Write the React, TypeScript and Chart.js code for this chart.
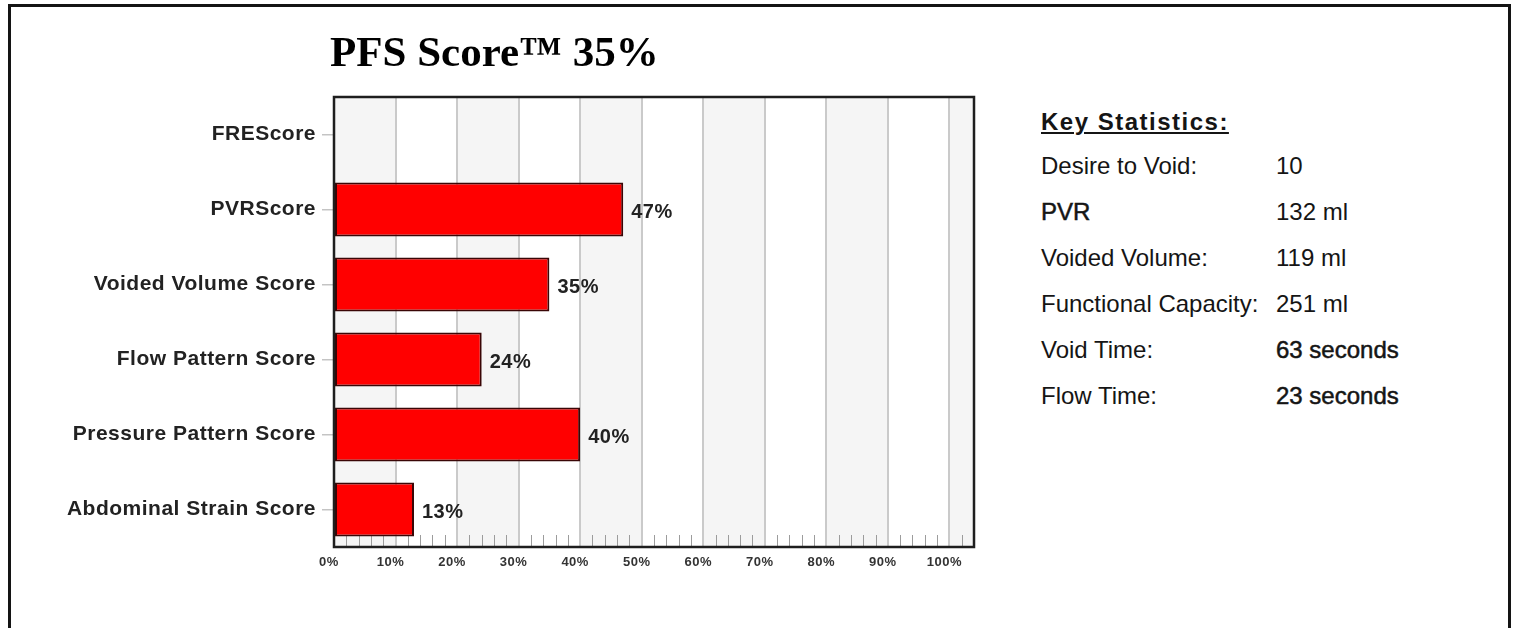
import React, { useEffect, useRef } from "react";
import { Chart, registerables } from "chart.js";

Chart.register(...registerables);

const categories = [
  "FREScore",
  "PVRScore",
  "Voided Volume Score",
  "Flow Pattern Score",
  "Pressure Pattern Score",
  "Abdominal Strain Score",
];
const scores = [0, 47, 35, 24, 40, 13];
const xTickValues = [0, 10, 20, 30, 40, 50, 60, 70, 80, 90, 100];
const titleText = "PFS Score\u2122 35%";
const statLabels = [
  "Desire to Void:",
  "PVR",
  "Voided Volume:",
  "Functional Capacity:",
  "Void Time:",
  "Flow Time:",
];
const statValues = ["10", "132 ml", "119 ml", "251 ml", "63 seconds", "23 seconds"];
const statEmphasis = [false, true, false, false, true, true];

const FONT = "'Liberation Sans', Arial, Helvetica, sans-serif";

const decorPlugin = {
  id: "decor",
  beforeDraw(chart: any) {
    const { ctx, chartArea } = chart;
    const x = chart.scales.x;
    if (!x) return;
    (ctx as any).letterSpacing = "0.5px";
    ctx.save();
    ctx.fillStyle = "#ffffff";
    ctx.fillRect(chartArea.left, chartArea.top, chartArea.right - chartArea.left, chartArea.bottom - chartArea.top);
    for (let i = 0; i < 11; i++) {
      const a = x.getPixelForValue(i * 10);
      const b = Math.min(x.getPixelForValue((i + 1) * 10), chartArea.right);
      if (i % 2 === 0) {
        ctx.fillStyle = "#f5f5f5";
        ctx.fillRect(a, chartArea.top, b - a, chartArea.bottom - chartArea.top);
      }
    }
    ctx.restore();
  },
  beforeDatasetsDraw(chart: any) {
    const { ctx, chartArea } = chart;
    const x = chart.scales.x;
    ctx.save();
    // minor ticks every 2%
    ctx.strokeStyle = "#9c9c9c";
    ctx.lineWidth = 1;
    for (let v = 2; v <= 104; v += 2) {
      if (v % 10 === 0) continue;
      const px = Math.round(x.getPixelForValue(v)) + 0.5;
      if (px >= chartArea.right) break;
      ctx.beginPath();
      ctx.moveTo(px, chartArea.bottom);
      ctx.lineTo(px, chartArea.bottom - 12);
      ctx.stroke();
    }
    ctx.restore();
  },
  afterDraw(chart: any) {
    const { ctx, chartArea } = chart;
    ctx.save();
    // value labels
    const meta = chart.getDatasetMeta(0);
    const data = chart.data.datasets[0].data as number[];
    ctx.font = `bold 20px ${FONT}`;
    ctx.fillStyle = "#222222";
    ctx.textAlign = "left";
    ctx.textBaseline = "middle";
    meta.data.forEach((bar: any, i: number) => {
      if (data[i] > 0) ctx.fillText(`${data[i]}%`, bar.x + 8, bar.y + 3);
    });
    // plot frame
    ctx.strokeStyle = "#1e1e1e";
    ctx.lineWidth = 2.5;
    ctx.strokeRect(chartArea.left, chartArea.top, chartArea.right - chartArea.left, chartArea.bottom - chartArea.top);
    ctx.restore();
  },
};

function ScoreChart() {
  const ref = useRef<HTMLCanvasElement | null>(null);
  useEffect(() => {
    if (!ref.current) return;
    const chart = new Chart(ref.current, {
      type: "bar",
      data: {
        labels: categories,
        datasets: [
          {
            data: scores,
            backgroundColor: "#ff0000",
            borderColor: "#3a0606",
            borderWidth: 2,
            borderSkipped: false,
            barPercentage: 0.72,
            categoryPercentage: 1,
          },
        ],
      },
      options: {
        indexAxis: "y",
        animation: false,
        responsive: false,
        devicePixelRatio: 1,
        layout: { padding: { top: 97, right: 26, left: 0, bottom: 0 } },
        plugins: { legend: { display: false }, tooltip: { enabled: false }, title: { display: false } },
        scales: {
          x: {
            type: "linear",
            min: 0,
            max: 104,
            afterFit(scale: any) {
              scale.height = 53;
            },
            afterBuildTicks(scale: any) {
              scale.ticks = xTickValues.map((v) => ({ value: v }));
            },
            border: { display: false },
            grid: {
              drawTicks: false,
              lineWidth: 2,
              color: (c: any) => (c.tick && c.tick.value === 0 ? "rgba(0,0,0,0)" : "#cacaca"),
            },
            ticks: {
              padding: 8,
              labelOffset: -5,
              color: "#333333",
              font: { family: FONT, size: 13, weight: "bold" },
              callback: (v: any) => `${v}%`,
            },
          },
          y: {
            afterFit(scale: any) {
              scale.width = 334;
            },
            border: { display: false },
            grid: {
              offset: false,
              drawOnChartArea: false,
              drawTicks: true,
              tickLength: 12,
              color: "#c4c4c4",
              lineWidth: 1.5,
            },
            ticks: {
              padding: 6,
              color: "#222222",
              font: { family: FONT, size: 21, weight: "bold" },
            },
          },
        },
      },
      plugins: [decorPlugin],
    } as any);
    return () => chart.destroy();
  }, []);
  return (
    <canvas
      ref={ref}
      width={1000}
      height={600}
      style={{ position: "fixed", left: 0, top: 0, width: 1000, height: 600 }}
    />
  );
}

export default function App() {
  return (
    <div>
      <div
        style={{
          position: "fixed",
          left: 8,
          top: 4,
          width: 1503,
          height: 700,
          boxSizing: "border-box",
          border: "3px solid #141414",
          background: "#ffffff",
        }}
      />
      <ScoreChart />
      <div
        style={{
          position: "fixed",
          left: 330,
          top: 26,
          fontFamily: "'Liberation Serif', 'Times New Roman', serif",
          fontWeight: "bold",
          fontSize: 43,
          lineHeight: "52px",
          color: "#000",
          whiteSpace: "nowrap",
        }}
      >
        {titleText}
      </div>
      <div
        style={{
          position: "fixed",
          left: 1041,
          top: 106,
          fontFamily: FONT,
          color: "#151515",
          whiteSpace: "nowrap",
        }}
      >
        <div
          style={{
            fontWeight: "bold",
            fontSize: 24,
            lineHeight: "32px",
            textDecoration: "underline",
            letterSpacing: 1.5,
            height: 44,
          }}
        >
          Key Statistics:
        </div>
        {statLabels.map((l, i) => (
          <div key={l} style={{ display: "flex", fontSize: 24, height: 46, lineHeight: "32px" }}>
            <span
              style={{
                width: 235,
                display: "inline-block",
                WebkitTextStroke: statEmphasis[i] && i === 1 ? "0.5px #151515" : undefined,
              }}
            >
              {l}
            </span>
            <span style={{ WebkitTextStroke: statEmphasis[i] && i !== 1 ? "0.5px #151515" : undefined }}>
              {statValues[i]}
            </span>
          </div>
        ))}
      </div>
    </div>
  );
}
